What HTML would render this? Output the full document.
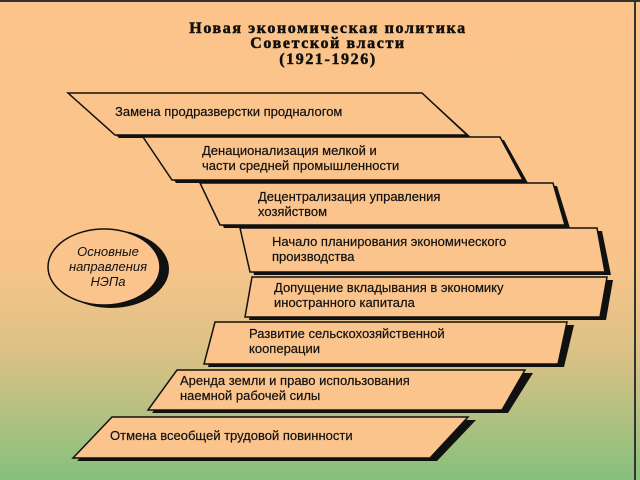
<!DOCTYPE html>
<html><head><meta charset="utf-8"><style>
html,body{margin:0;padding:0;width:640px;height:480px;overflow:hidden}
svg{display:block}
.t{font-family:"Liberation Sans","DejaVu Sans",sans-serif;font-size:13px;fill:#111;stroke:#111;stroke-width:0.2}
.h{font-family:"Liberation Serif","DejaVu Serif",serif;font-weight:bold;font-size:16px;fill:#111;letter-spacing:1.6px;stroke:#111;stroke-width:0.5}
</style></head><body>
<svg width="640" height="480" viewBox="0 0 640 480" xmlns="http://www.w3.org/2000/svg">
<defs><linearGradient id="bg" x1="0" y1="0" x2="0" y2="1">
<stop offset="0" stop-color="#fcc48a"/><stop offset="0.55" stop-color="#f9c48a"/>
<stop offset="0.75" stop-color="#d8c185"/><stop offset="1" stop-color="#86c07c"/></linearGradient></defs>
<rect width="640" height="480" fill="url(#bg)"/>
<rect x="0" y="0" width="640" height="2" fill="#333"/>
<rect x="634" y="0" width="2" height="480" fill="#333"/>
<text class="h" x="328" y="33" text-anchor="middle">Новая экономическая политика</text>
<text class="h" x="328" y="48" text-anchor="middle">Советской власти</text>
<text class="h" x="328" y="64" text-anchor="middle">(1921-1926)</text>
<g stroke="#111" stroke-width="1.5" fill="#fac48c" stroke-linejoin="miter">
<polygon points="72,96 426,96 472,138 119,138" fill="#111" stroke="none"/>
<polygon points="68,93 422,93 467,135 115,135"/>
<polygon points="146,140 504,140 528,183 176,183" fill="#111" stroke="none"/>
<polygon points="143,137 500,137 523,180 172,180"/>
<polygon points="203,186 557,186 570,228 224,228" fill="#111" stroke="none"/>
<polygon points="200,183 553,183 565,225 220,225"/>
<polygon points="244,231 602,231 611,275 254,275" fill="#111" stroke="none"/>
<polygon points="240,228 597,228 605,272 250,272"/>
<polygon points="256,280 613,280 606,320 249,320" fill="#111" stroke="none"/>
<polygon points="252,277 607,277 600,317 245,317"/>
<polygon points="219,325 574,325 564,367 208,367" fill="#111" stroke="none"/>
<polygon points="215,322 567,322 558,364 204,364"/>
<polygon points="181,373 533,373 508,413 152,413" fill="#111" stroke="none"/>
<polygon points="177,370 525,370 502,410 148,410"/>
<polygon points="116,420 476,420 437,461 77,461" fill="#111" stroke="none"/>
<polygon points="112,417 468,417 430,458 73,458"/>
</g>
<ellipse cx="111" cy="269" rx="58" ry="39" fill="#111"/>
<ellipse cx="104" cy="267" rx="56" ry="38" fill="#fac48c" stroke="#111" stroke-width="1.5"/>
<g class="t">
<text x="115" y="116">Замена продразверстки продналогом</text>
<text x="202" y="155">Денационализация мелкой и</text>
<text x="202" y="170">части средней промышленности</text>
<text x="258" y="201">Децентрализация управления</text>
<text x="258" y="216">хозяйством</text>
<text x="272" y="246">Начало планирования экономического</text>
<text x="272" y="261">производства</text>
<text x="274" y="292">Допущение вкладывания в экономику</text>
<text x="274" y="307">иностранного капитала</text>
<text x="249" y="338">Развитие сельскохозяйственной</text>
<text x="249" y="353">кооперации</text>
<text x="180" y="385">Аренда земли и право использования</text>
<text x="180" y="400">наемной рабочей силы</text>
<text x="110" y="440">Отмена всеобщей трудовой повинности</text>
</g>
<g class="t" style="font-style:italic;stroke-width:0" text-anchor="middle">
<text x="108" y="256">Основные</text>
<text x="108" y="271">направления</text>
<text x="108" y="286">НЭПа</text>
</g>
</svg>
</body></html>
